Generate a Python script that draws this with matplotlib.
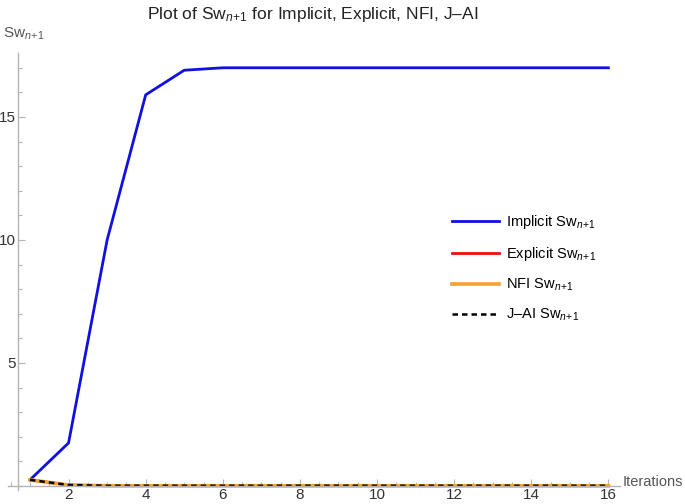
import numpy as np
import matplotlib
matplotlib.use("Agg")
import matplotlib.pyplot as plt
from matplotlib.ticker import MultipleLocator

plt.rcParams['font.family'] = ['Liberation Sans', 'DejaVu Sans']
plt.rcParams['mathtext.fontset'] = 'custom'
plt.rcParams['mathtext.rm'] = 'Liberation Sans'
plt.rcParams['mathtext.it'] = 'Liberation Sans:italic'

# data
iterations = np.arange(1, 17)
implicit_sw = [0.25, 1.75, 10.0, 15.9, 16.9, 17.0, 17.0, 17.0,
               17.0, 17.0, 17.0, 17.0, 17.0, 17.0, 17.0, 17.0]
explicit_sw = [0.25, 0.04, 0.01, 0.01, 0.01, 0.01, 0.01, 0.01,
               0.01, 0.01, 0.01, 0.01, 0.01, 0.01, 0.01, 0.01]
nfi_sw = list(explicit_sw)
jai_sw = list(explicit_sw)

SUB = r"Sw$_{n\!+\!1}$"
axis_grey = '#b4b4b4'
label_grey = '#555555'

fig = plt.figure(figsize=(6.85, 5.04), dpi=100)
ax = fig.add_axes([0.0117, 0.0284, 0.8934, 0.8664])

ax.plot(iterations, implicit_sw, color='#1010e0', lw=2.0, label=f"Implicit {SUB}", clip_on=False)
ax.plot(iterations, explicit_sw, color='#e81010', lw=2.0, label=f"Explicit {SUB}", clip_on=False)
ax.plot(iterations, nfi_sw, color='#f5a030', lw=2.6, label=f"NFI {SUB}", clip_on=False)
ax.plot(iterations, jai_sw, color='black', lw=1.8, ls=(0, (2.2, 1.6)),
        label=f"J\u2013AI {SUB}", clip_on=False)

ax.set_xlim(0.43, 16.3)
ax.set_ylim(-0.15, 17.6)

# Mathematica-style axes crossing inside the frame
for side in ['top', 'right']:
    ax.spines[side].set_visible(False)
ax.spines['bottom'].set_position(('data', 0))
ax.spines['left'].set_position(('data', 0.7))
for side in ['bottom', 'left']:
    ax.spines[side].set_color(axis_grey)
    ax.spines[side].set_linewidth(1.0)

ax.xaxis.set_major_locator(MultipleLocator(2))
ax.xaxis.set_minor_locator(MultipleLocator(0.5))
ax.yaxis.set_major_locator(MultipleLocator(5))
ax.yaxis.set_minor_locator(MultipleLocator(1))
ax.set_yticks([5, 10, 15])
ax.tick_params(which='both', direction='in', color=axis_grey, width=0.8)
ax.tick_params(which='major', length=5, labelsize=11, labelcolor='#333333')
ax.tick_params(which='minor', length=3)
ax.tick_params(axis='x', pad=1.5)
ax.tick_params(axis='y', pad=2)

fig.text(313 / 685, 1 - 15 / 504, "Plot of " + SUB + " for Implicit, Explicit, NFI, J\u2013AI",
         ha='center', va='center', fontsize=12.5, color='#222222')
fig.text(3 / 685, 1 - 34 / 504, SUB, ha='left', va='center', fontsize=11, color=label_grey)
fig.text(623 / 685, 1 - 482 / 504, "Iterations", ha='left', va='center', fontsize=10.5, color=label_grey)

ax.legend(loc='upper left', bbox_to_anchor=(452 / 685, 1 - 213 / 504),
          bbox_transform=fig.transFigure, frameon=False, fontsize=10.5,
          handlelength=3.2, handletextpad=0.5, labelspacing=0.95,
          borderpad=0, borderaxespad=0)

fig.savefig('out.png', dpi=100)
